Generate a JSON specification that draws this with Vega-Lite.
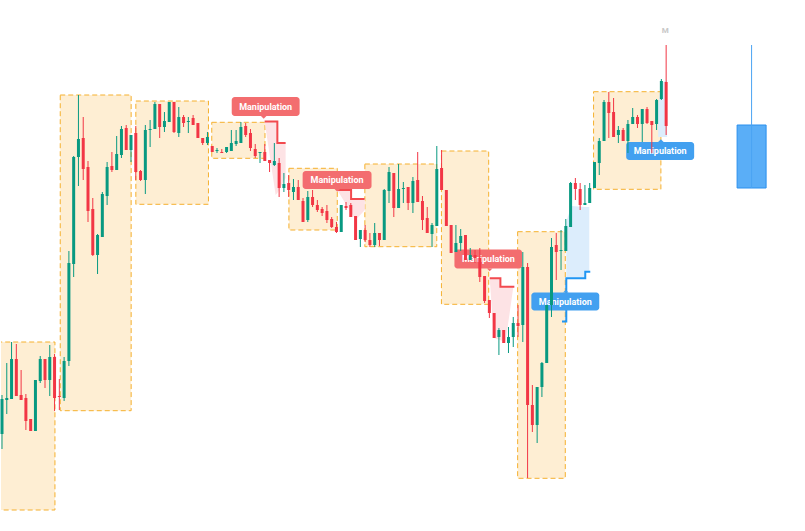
{
  "$schema": "https://vega.github.io/schema/vega-lite/v6.json",
  "width": 805,
  "height": 531,
  "padding": 0,
  "autosize": {"type": "fit", "contains": "padding"},
  "background": "white",
  "config": {"view": {"stroke": null}},
  "datasets": {
    "candles": [
      {"i":0,"o":97,"c":132,"h":136,"l":82},{"i":1,"o":131,"c":133,"h":168,"l":117},{"i":2,"o":132,"c":172,"h":189,"l":132},{"i":3,"o":172,"c":135,"h":187,"l":135},{"i":4,"o":136,"c":131,"h":161,"l":131},{"i":5,"o":133,"c":110,"h":137,"l":101},{"i":6,"o":112,"c":100,"h":112,"l":100},{"i":7,"o":100,"c":151,"h":151,"l":100},{"i":8,"o":150,"c":172,"h":175,"l":148},{"i":9,"o":172,"c":151,"h":172,"l":143},
      {"i":10,"o":151,"c":174,"h":186,"l":135},{"i":11,"o":174,"c":133,"h":177,"l":120},{"i":12,"o":135,"c":134,"h":152,"l":121},{"i":13,"o":133,"c":170,"h":174,"l":130},{"i":14,"o":170,"c":268,"h":280,"l":165},{"i":15,"o":267,"c":374,"h":375,"l":254},{"i":16,"o":374,"c":392,"h":436,"l":345},{"i":17,"o":393,"c":362,"h":414,"l":351},{"i":18,"o":364,"c":320,"h":370,"l":309},{"i":19,"o":322,"c":276,"h":333,"l":275},
      {"i":20,"o":276,"c":296,"h":297,"l":257},{"i":21,"o":294,"c":337,"h":339,"l":294},{"i":22,"o":335,"c":364,"h":369,"l":326},{"i":23,"o":365,"c":361,"h":379,"l":359},{"i":24,"o":361,"c":377,"h":395,"l":361},{"i":25,"o":376,"c":402,"h":405,"l":373},{"i":26,"o":403,"c":381,"h":406,"l":381},{"i":27,"o":381,"c":396,"h":396,"l":369},{"i":28,"o":398,"c":359,"h":405,"l":351},{"i":29,"o":360,"c":351,"h":361,"l":350},
      {"i":30,"o":351,"c":401,"h":406,"l":337},{"i":31,"o":401,"c":402,"h":411,"l":384},{"i":32,"o":402,"c":427,"h":429,"l":402},{"i":33,"o":427,"c":404,"h":427,"l":393},{"i":34,"o":404,"c":410,"h":419,"l":399},{"i":35,"o":409,"c":429,"h":429,"l":409},{"i":36,"o":429,"c":399,"h":429,"l":398},{"i":37,"o":398,"c":414,"h":424,"l":394},{"i":38,"o":414,"c":408,"h":416,"l":404},{"i":39,"o":409,"c":410,"h":414,"l":398},
      {"i":40,"o":413,"c":406,"h":416,"l":406},{"i":41,"o":408,"c":393,"h":408,"l":393},{"i":42,"o":393,"c":388,"h":393,"l":386},{"i":43,"o":388,"c":394,"h":399,"l":386},{"i":44,"o":385,"c":379,"h":385,"l":379},{"i":45,"o":380,"c":381,"h":383,"l":378},{"i":46,"o":379,"c":378,"h":382,"l":378},{"i":47,"o":379,"c":384,"h":384,"l":378},{"i":48,"o":380,"c":388,"h":401,"l":380},{"i":49,"o":387,"c":390,"h":401,"l":385},
      {"i":50,"o":388,"c":404,"h":409,"l":388},{"i":51,"o":405,"c":396,"h":408,"l":394},{"i":52,"o":398,"c":383,"h":402,"l":380},{"i":53,"o":382,"c":375,"h":387,"l":373},{"i":54,"o":378,"c":379,"h":379,"l":368},{"i":55,"o":379,"c":370,"h":387,"l":370},{"i":56,"o":371,"c":368,"h":371,"l":359},{"i":57,"o":366,"c":370,"h":388,"l":365},{"i":58,"o":368,"c":343,"h":373,"l":334},{"i":59,"o":343,"c":347,"h":358,"l":339},
      {"i":60,"o":348,"c":341,"h":356,"l":334},{"i":61,"o":339,"c":344,"h":352,"l":331},{"i":62,"o":344,"c":331,"h":351,"l":331},{"i":63,"o":330,"c":309,"h":333,"l":309},{"i":64,"o":311,"c":334,"h":340,"l":309},{"i":65,"o":334,"c":326,"h":341,"l":324},{"i":66,"o":326,"c":321,"h":331,"l":319},{"i":67,"o":322,"c":318,"h":324,"l":315},{"i":68,"o":320,"c":311,"h":326,"l":308},{"i":69,"o":312,"c":304,"h":314,"l":303},
      {"i":70,"o":304,"c":299,"h":309,"l":298},{"i":71,"o":299,"c":326,"h":326,"l":299},{"i":72,"o":325,"c":323,"h":329,"l":321},{"i":73,"o":326,"c":314,"h":328,"l":314},{"i":74,"o":315,"c":291,"h":315,"l":291},{"i":75,"o":292,"c":301,"h":301,"l":284},{"i":76,"o":301,"c":291,"h":306,"l":289},{"i":77,"o":291,"c":286,"h":298,"l":284},{"i":78,"o":286,"c":298,"h":308,"l":284},{"i":79,"o":298,"c":291,"h":298,"l":285},
      {"i":80,"o":291,"c":341,"h":342,"l":291},{"i":81,"o":340,"c":359,"h":364,"l":328},{"i":82,"o":358,"c":323,"h":358,"l":314},{"i":83,"o":323,"c":342,"h":367,"l":323},{"i":84,"o":342,"c":343,"h":349,"l":328},{"i":85,"o":344,"c":328,"h":344,"l":321},{"i":86,"o":328,"c":350,"h":354,"l":318},{"i":87,"o":351,"c":329,"h":379,"l":329},{"i":88,"o":330,"c":311,"h":335,"l":301},{"i":89,"o":313,"c":298,"h":324,"l":298},
      {"i":90,"o":297,"c":306,"h":308,"l":284},{"i":91,"o":305,"c":362,"h":385,"l":305},{"i":92,"o":363,"c":341,"h":381,"l":341},{"i":93,"o":341,"c":305,"h":341,"l":305},{"i":94,"o":306,"c":278,"h":306,"l":278},{"i":95,"o":279,"c":288,"h":306,"l":279},{"i":96,"o":288,"c":295,"h":302,"l":280},{"i":97,"o":296,"c":271,"h":296,"l":271},{"i":98,"o":271,"c":276,"h":283,"l":271},{"i":99,"o":276,"c":273,"h":281,"l":268},
      {"i":100,"o":273,"c":254,"h":283,"l":249},{"i":101,"o":255,"c":230,"h":255,"l":228},{"i":102,"o":231,"c":218,"h":231,"l":213},{"i":103,"o":218,"c":193,"h":218,"l":193},{"i":104,"o":194,"c":201,"h":203,"l":176},{"i":105,"o":201,"c":188,"h":201,"l":188},{"i":106,"o":188,"c":194,"h":204,"l":178},{"i":107,"o":194,"c":208,"h":214,"l":184},{"i":108,"o":208,"c":205,"h":226,"l":194},{"i":109,"o":206,"c":264,"h":279,"l":189},
      {"i":110,"o":264,"c":126,"h":268,"l":53},{"i":111,"o":126,"c":106,"h":146,"l":99},{"i":112,"o":106,"c":144,"h":144,"l":88},{"i":113,"o":144,"c":168,"h":169,"l":134},{"i":114,"o":168,"c":226,"h":226,"l":168},{"i":115,"o":226,"c":284,"h":293,"l":214},{"i":116,"o":286,"c":279,"h":298,"l":251},{"i":117,"o":280,"c":281,"h":301,"l":261},{"i":118,"o":280,"c":305,"h":312,"l":280},{"i":119,"o":304,"c":348,"h":349,"l":304},
      {"i":120,"o":348,"c":342,"h":353,"l":331},{"i":121,"o":342,"c":326,"h":348,"l":321},{"i":122,"o":326,"c":328,"h":346,"l":326},{"i":123,"o":328,"c":343,"h":348,"l":328},{"i":124,"o":343,"c":369,"h":369,"l":343},{"i":125,"o":368,"c":390,"h":393,"l":356},{"i":126,"o":390,"c":429,"h":431,"l":390},{"i":127,"o":429,"c":418,"h":439,"l":393},{"i":128,"o":419,"c":394,"h":433,"l":394},{"i":129,"o":396,"c":401,"h":405,"l":388},
      {"i":130,"o":401,"c":390,"h":403,"l":390},{"i":131,"o":390,"c":407,"h":411,"l":378},{"i":132,"o":407,"c":414,"h":423,"l":407},{"i":133,"o":414,"c":407,"h":416,"l":403},{"i":134,"o":407,"c":422,"h":422,"l":389},{"i":135,"o":422,"c":408,"h":424,"l":407},{"i":136,"o":410,"c":406,"h":410,"l":378},{"i":137,"o":407,"c":431,"h":432,"l":401},{"i":138,"o":432,"c":450,"h":452,"l":431},{"i":139,"o":449,"c":405,"h":486,"l":396}
    ],
    "boxes": [
      {"x1":-1,"x2":11.08,"top":189,"bottom":21},
      {"x1":12.19,"x2":27.03,"top":436,"bottom":120.3},
      {"x1":28.01,"x2":43.21,"top":430,"bottom":326.7},
      {"x1":43.9,"x2":55.04,"top":408.7,"bottom":372.7},
      {"x1":60.05,"x2":70.17,"top":362.7,"bottom":301},
      {"x1":75.94,"x2":90.99,"top":367,"bottom":284.3},
      {"x1":91.97,"x2":101.86,"top":380,"bottom":226.7},
      {"x1":107.92,"x2":117.89,"top":299.3,"bottom":52.7},
      {"x1":123.81,"x2":137.9,"top":439.3,"bottom":341.7}
    ],
    "areas": [
      {"g":"p1","kind":"bear","x":54.97,"top":409.5,"bottom":409.5},
      {"g":"p1","kind":"bear","x":57.27,"top":409.5,"bottom":336},
      {"g":"p1","kind":"bear","x":57.62,"top":409.5,"bottom":338},
      {"g":"p1","kind":"bear","x":57.64,"top":388,"bottom":338},
      {"g":"p1","kind":"bear","x":59.36,"top":388,"bottom":353},
      {"g":"p2","kind":"bear","x":70.17,"top":341,"bottom":341},
      {"g":"p2","kind":"bear","x":73.05,"top":341,"bottom":318.4},
      {"g":"p2","kind":"bear","x":73.07,"top":332,"bottom":318.4},
      {"g":"p2","kind":"bear","x":74.0,"top":332,"bottom":311},
      {"g":"p2","kind":"bear","x":75.94,"top":332,"bottom":321},
      {"g":"p3","kind":"bear","x":102.07,"top":252.7,"bottom":252.7},
      {"g":"p3","kind":"bear","x":102.95,"top":252.7,"bottom":193},
      {"g":"p3","kind":"bear","x":104.3,"top":252.7,"bottom":191},
      {"g":"p3","kind":"bear","x":104.32,"top":244.3,"bottom":191},
      {"g":"p3","kind":"bear","x":105.35,"top":244.3,"bottom":188},
      {"g":"p3","kind":"bear","x":107.02,"top":244.3,"bottom":244.3},
      {"g":"b4","kind":"bull","x":118.1,"top":309,"bottom":252.7},
      {"g":"b4","kind":"bull","x":119.15,"top":325,"bottom":252.7},
      {"g":"b4","kind":"bull","x":122.06,"top":324,"bottom":252.7},
      {"g":"b4","kind":"bull","x":122.08,"top":324,"bottom":259.3},
      {"g":"b4","kind":"bull","x":122.91,"top":324,"bottom":259.3},
      {"g":"b5","kind":"bull","x":137.33,"top":426,"bottom":394},
      {"g":"b5","kind":"bull","x":138.0,"top":448,"bottom":394},
      {"g":"b5","kind":"bull","x":139.2,"top":451,"bottom":394}
    ],
    "steps": [
      {"g":"r1","kind":"bear","k":1,"x":54.97,"p":409.5},
      {"g":"r1","kind":"bear","k":2,"x":57.63,"p":409.5},
      {"g":"r1","kind":"bear","k":3,"x":57.63,"p":388},
      {"g":"r1","kind":"bear","k":4,"x":59.36,"p":388},
      {"g":"r2","kind":"bear","k":1,"x":70.17,"p":341},
      {"g":"r2","kind":"bear","k":2,"x":73.06,"p":341},
      {"g":"r2","kind":"bear","k":3,"x":73.06,"p":332},
      {"g":"r2","kind":"bear","k":4,"x":75.88,"p":332},
      {"g":"r3","kind":"bear","k":1,"x":102.07,"p":252.7},
      {"g":"r3","kind":"bear","k":2,"x":104.31,"p":252.7},
      {"g":"r3","kind":"bear","k":3,"x":104.31,"p":244.3},
      {"g":"r3","kind":"bear","k":4,"x":107.23,"p":244.3},
      {"g":"u4","kind":"bull","k":1,"x":117.2,"p":209.5},
      {"g":"u4","kind":"bull","k":2,"x":118.1,"p":209.5},
      {"g":"u4","kind":"bull","k":3,"x":118.1,"p":252.7},
      {"g":"u4","kind":"bull","k":4,"x":122.07,"p":252.7},
      {"g":"u4","kind":"bull","k":5,"x":122.07,"p":259.3},
      {"g":"u4","kind":"bull","k":6,"x":123.12,"p":259.3}
    ],
    "labels": [
      {"kind":"bear","text":"Manipulation","x1":48.08,"x2":62.29,"top":434,"bottom":415,"tx":55.18,"ty":424.5,"px":54.77},
      {"kind":"bear","text":"Manipulation","x1":62.92,"x2":77.34,"top":360,"bottom":342,"tx":70.13,"ty":351,"px":70.17},
      {"kind":"bear","text":"Manipulation","x1":94.69,"x2":108.84,"top":281.5,"bottom":262.5,"tx":101.8,"ty":272,"px":102.07},
      {"kind":"bull","text":"Manipulation","x1":110.79,"x2":125.0,"top":238.5,"bottom":220.5,"tx":117.89,"ty":229.5,"px":118.0},
      {"kind":"bull","text":"Manipulation","x1":130.64,"x2":144.86,"top":389,"bottom":371,"tx":137.75,"ty":380,"px":137.9}
    ],
    "htf": [
      {"x1":153.85,"x2":159.92,"xm":156.88,"o":343,"c":406,"h":486,"l":343}
    ],
    "marker": [
      {"x":138.8,"p":500,"text":"M"}
    ]
  },
  "layer": [
    {
      "data": {"name": "boxes"},
      "mark": {"type": "rect", "fill": "#f9a825", "fillOpacity": 0.2, "stroke": "#f5b02e", "strokeWidth": 1, "strokeDash": [5, 3], "clip": true},
      "encoding": {
        "x": {"field": "x1", "type": "quantitative", "scale": {"domain": [-0.209, 168.06], "nice": false, "zero": false}, "axis": null},
        "x2": {"field": "x2"},
        "y": {"field": "top", "type": "quantitative", "scale": {"domain": [0, 531], "nice": false, "zero": false}, "axis": null},
        "y2": {"field": "bottom"}
      }
    },
    {
      "data": {"name": "areas"},
      "transform": [{"filter": "datum.kind === 'bear'"}],
      "mark": {"type": "area", "interpolate": "linear", "color": "#fde3e5", "opacity": 1},
      "encoding": {
        "x": {"field": "x", "type": "quantitative", "axis": null},
        "y": {"field": "top", "type": "quantitative", "axis": null},
        "y2": {"field": "bottom"},
        "detail": {"field": "g"}
      }
    },
    {
      "data": {"name": "areas"},
      "transform": [{"filter": "datum.kind === 'bull'"}],
      "mark": {"type": "area", "interpolate": "linear", "color": "#dcedfc", "opacity": 1},
      "encoding": {
        "x": {"field": "x", "type": "quantitative", "axis": null},
        "y": {"field": "top", "type": "quantitative", "axis": null},
        "y2": {"field": "bottom"},
        "detail": {"field": "g"}
      }
    },
    {
      "data": {"name": "steps"},
      "mark": {"type": "line", "strokeWidth": 2, "strokeJoin": "miter"},
      "encoding": {
        "x": {"field": "x", "type": "quantitative", "axis": null},
        "y": {"field": "p", "type": "quantitative", "axis": null},
        "detail": {"field": "g"},
        "order": {"field": "k", "type": "quantitative"},
        "color": {"condition": {"test": "datum.kind === 'bull'", "value": "#2196f3"}, "value": "#f24a4f"}
      }
    },
    {
      "data": {"name": "labels"},
      "mark": {"type": "rect", "cornerRadius": 3},
      "encoding": {
        "x": {"field": "x1", "type": "quantitative", "axis": null},
        "x2": {"field": "x2"},
        "y": {"field": "top", "type": "quantitative", "axis": null},
        "y2": {"field": "bottom"},
        "color": {"condition": {"test": "datum.kind === 'bull'", "value": "#42a0f0"}, "value": "#f36d6f"}
      }
    },
    {
      "data": {"name": "labels"},
      "transform": [{"filter": "datum.kind === 'bear'"}],
      "mark": {"type": "point", "shape": "M-1,0L1,0L0,1Z", "filled": true, "size": 30, "opacity": 1, "color": "#f36d6f"},
      "encoding": {
        "x": {"field": "px", "type": "quantitative", "axis": null},
        "y": {"field": "bottom", "type": "quantitative", "axis": null}
      }
    },
    {
      "data": {"name": "labels"},
      "transform": [{"filter": "datum.kind === 'bull'"}],
      "mark": {"type": "point", "shape": "M-1,0L1,0L0,-1Z", "filled": true, "size": 30, "opacity": 1, "color": "#42a0f0"},
      "encoding": {
        "x": {"field": "px", "type": "quantitative", "axis": null},
        "y": {"field": "top", "type": "quantitative", "axis": null}
      }
    },
    {
      "data": {"name": "labels"},
      "mark": {"type": "text", "font": "Roboto", "fontWeight": "bold", "fontSize": 9, "color": "white", "align": "center", "baseline": "middle"},
      "encoding": {
        "x": {"field": "tx", "type": "quantitative", "axis": null},
        "y": {"field": "ty", "type": "quantitative", "axis": null},
        "text": {"field": "text"}
      }
    },
    {
      "data": {"name": "candles"},
      "mark": {"type": "rule", "strokeWidth": 1},
      "encoding": {
        "x": {"field": "i", "type": "quantitative", "axis": null},
        "y": {"field": "l", "type": "quantitative", "axis": null},
        "y2": {"field": "h"},
        "color": {"condition": {"test": "datum.c > datum.o", "value": "#089981"}, "value": "#f23645"}
      }
    },
    {
      "data": {"name": "candles"},
      "mark": {"type": "rule", "strokeWidth": 3, "strokeCap": "butt"},
      "encoding": {
        "x": {"field": "i", "type": "quantitative", "axis": null},
        "y": {"field": "o", "type": "quantitative", "axis": null},
        "y2": {"field": "c"},
        "color": {"condition": {"test": "datum.c > datum.o", "value": "#089981"}, "value": "#f23645"}
      }
    },
    {
      "data": {"name": "htf"},
      "mark": {"type": "rect", "fill": "#5aaef7", "stroke": "#2b90ee", "strokeWidth": 1},
      "encoding": {
        "x": {"field": "x1", "type": "quantitative", "axis": null},
        "x2": {"field": "x2"},
        "y": {"field": "o", "type": "quantitative", "axis": null},
        "y2": {"field": "c"}
      }
    },
    {
      "data": {"name": "htf"},
      "mark": {"type": "rule", "strokeWidth": 1, "color": "#4aa3f2"},
      "encoding": {
        "x": {"field": "xm", "type": "quantitative", "axis": null},
        "y": {"field": "l", "type": "quantitative", "axis": null},
        "y2": {"field": "h"}
      }
    },
    {
      "data": {"name": "marker"},
      "mark": {"type": "text", "font": "Roboto", "fontWeight": "bold", "fontSize": 8, "color": "#c8c8c8", "align": "center", "baseline": "middle"},
      "encoding": {
        "x": {"field": "x", "type": "quantitative", "axis": null},
        "y": {"field": "p", "type": "quantitative", "axis": null},
        "text": {"field": "text"}
      }
    }
  ]
}
